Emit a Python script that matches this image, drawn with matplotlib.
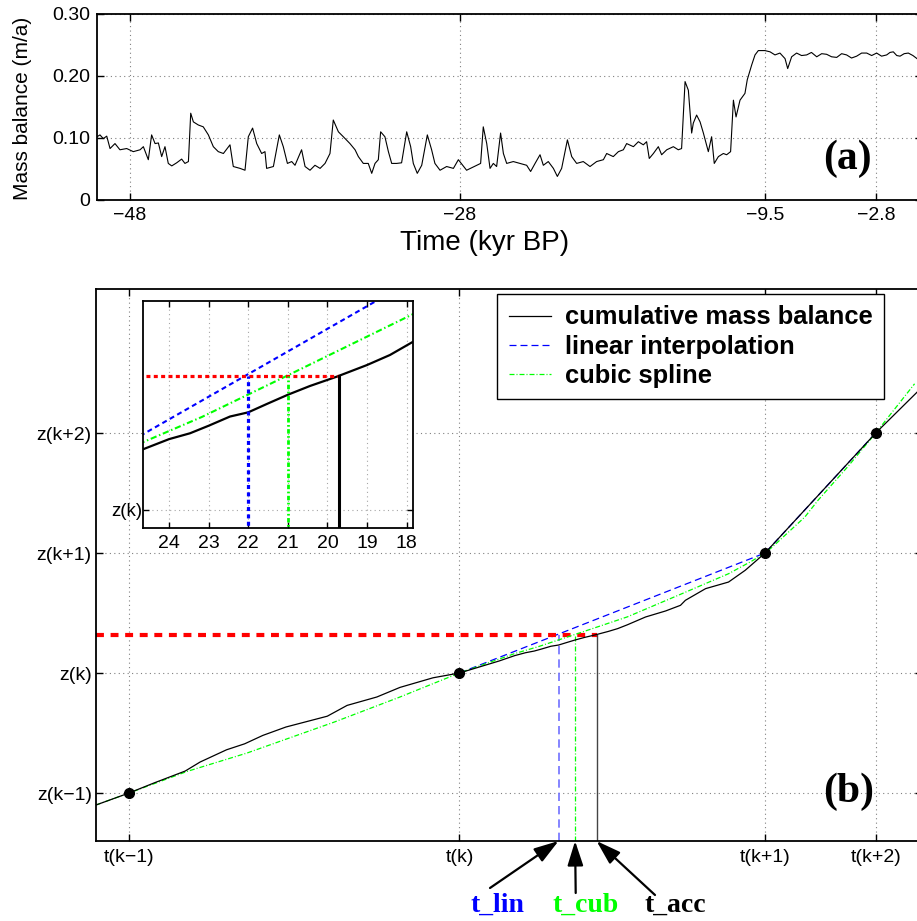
import matplotlib
matplotlib.use('Agg')
import matplotlib.pyplot as plt

plt.rcParams['font.family'] = ['Liberation Sans', 'DejaVu Sans']
plt.rcParams['axes.unicode_minus'] = True

# (a) mass balance record
mb_time = [-50.00, -49.82, -49.62, -49.41, -49.21, -48.91, -48.61, -48.20, -47.80, -47.39,
           -47.19, -46.89, -46.69, -46.48, -46.28, -46.08, -45.88, -45.68, -45.47, -45.17,
           -44.87, -44.67, -44.46, -44.32, -44.16, -43.86, -43.56, -43.25, -42.95, -42.65,
           -42.34, -41.94, -41.74, -41.33, -41.03, -40.83, -40.57, -40.32, -40.02, -39.82,
           -39.72, -39.31, -38.95, -38.71, -38.46, -38.20, -38.00, -37.60, -37.39, -37.09,
           -36.79, -36.48, -36.18, -35.88, -35.68, -35.37, -35.07, -34.67, -34.36, -34.16,
           -33.86, -33.56, -33.35, -33.15, -32.95, -32.81, -32.55, -32.34, -32.14, -31.84,
           -31.54, -31.23, -30.99, -30.83, -30.59, -30.32, -29.98, -29.72, -29.52, -29.21,
           -28.81, -28.40, -28.10, -27.60, -26.99, -26.75, -26.59, -26.38, -26.18, -25.98,
           -25.78, -25.54, -25.37, -25.17, -24.77, -24.36, -23.96, -23.72, -23.45, -23.15,
           -22.95, -22.65, -22.34, -22.10, -21.84, -21.49, -21.23, -20.93, -20.53, -20.12,
           -19.72, -19.31, -19.11, -18.71, -18.40, -18.10, -17.90, -17.49, -17.19, -16.89,
           -16.69, -16.53, -16.28, -15.98, -15.78, -15.47, -15.07, -14.77, -14.57, -14.36,
           -14.16, -13.96, -13.86, -13.66, -13.45, -13.25, -12.95, -12.75, -12.59, -12.34,
           -12.04, -11.84, -11.60, -11.43, -11.27, -11.03, -10.73, -10.59, -10.32, -10.12,
           -9.92, -9.52, -9.21, -8.91, -8.61, -8.30, -8.14, -7.90, -7.60, -7.30,
           -6.99, -6.70, -6.38, -6.08, -5.78, -5.48, -5.17, -4.87, -4.57, -4.27,
           -3.96, -3.66, -3.35, -3.05, -2.75, -2.45, -2.14, -1.94, -1.74, -1.53,
           -1.33, -1.08, -0.83, -0.55, -0.30]
mb_value = [0.102, 0.105, 0.099, 0.103, 0.083, 0.091, 0.081, 0.083, 0.078, 0.081,
            0.086, 0.065, 0.105, 0.091, 0.092, 0.070, 0.086, 0.059, 0.055, 0.060,
            0.066, 0.059, 0.062, 0.140, 0.126, 0.121, 0.118, 0.105, 0.086, 0.078,
            0.075, 0.089, 0.054, 0.051, 0.048, 0.102, 0.116, 0.091, 0.075, 0.078,
            0.051, 0.054, 0.105, 0.086, 0.059, 0.062, 0.056, 0.081, 0.054, 0.048,
            0.056, 0.051, 0.059, 0.075, 0.129, 0.110, 0.102, 0.091, 0.081, 0.070,
            0.059, 0.059, 0.043, 0.059, 0.065, 0.110, 0.102, 0.078, 0.059, 0.059,
            0.060, 0.110, 0.086, 0.059, 0.043, 0.056, 0.105, 0.081, 0.059, 0.048,
            0.054, 0.051, 0.065, 0.048, 0.056, 0.059, 0.118, 0.091, 0.051, 0.059,
            0.054, 0.108, 0.075, 0.059, 0.062, 0.059, 0.056, 0.046, 0.059, 0.073,
            0.056, 0.062, 0.051, 0.038, 0.051, 0.097, 0.070, 0.059, 0.062, 0.054,
            0.062, 0.065, 0.075, 0.070, 0.078, 0.081, 0.091, 0.086, 0.094, 0.089,
            0.094, 0.067, 0.075, 0.086, 0.073, 0.081, 0.086, 0.081, 0.083, 0.191,
            0.177, 0.108, 0.124, 0.137, 0.126, 0.108, 0.078, 0.102, 0.059, 0.070,
            0.075, 0.073, 0.078, 0.161, 0.134, 0.161, 0.172, 0.194, 0.218, 0.234,
            0.241, 0.241, 0.239, 0.234, 0.237, 0.228, 0.212, 0.231, 0.237, 0.233,
            0.234, 0.238, 0.231, 0.236, 0.235, 0.231, 0.230, 0.236, 0.234, 0.229,
            0.232, 0.237, 0.237, 0.233, 0.237, 0.232, 0.234, 0.238, 0.239, 0.233,
            0.232, 0.236, 0.237, 0.233, 0.228]
mb_xticks = [-48, -28, -9.5, -2.8]
mb_xticklabels = ['\u221248', '\u221228', '\u22129.5', '\u22122.8']
mb_yticks = [0, 0.10, 0.20, 0.30]
mb_yticklabels = ['0', '0.10', '0.20', '0.30']

# (b) cumulative mass balance and interpolations
cum_t = [-50, -48, -46.5, -44.6, -43.7, -42.1, -41.0, -39.9, -38.5, -36.0, -34.8, -33.0,
         -31.6, -29.6, -28, -25.6, -24.65, -24.0, -23.47, -23.0, -22.46, -22.0, -21.53,
         -21.0, -20.44, -19.77, -19.0, -18.42, -17.83, -16.73, -15.52, -14.62, -14.32,
         -13.1, -11.71, -10.7, -9.89, -9.5, -2.8, -0.3]
cum_z = [-0.10, 0.0, 0.083, 0.183, 0.258, 0.36, 0.41, 0.48, 0.55, 0.64, 0.73, 0.80,
         0.88, 0.96, 1.0, 1.10, 1.145, 1.169, 1.183, 1.201, 1.223, 1.233, 1.253,
         1.275, 1.296, 1.318, 1.346, 1.370, 1.402, 1.467, 1.517, 1.564, 1.606,
         1.703, 1.758, 1.856, 1.953, 2.0, 3.0, 3.34]
spl_t = [-50, -48, -44.48, -40.86, -35.6, -31.6, -28, -24.65, -23.17, -21.03, -17.83,
         -14.53, -11.7, -10.3, -9.5, -9.1, -7.09, -6.29, -4.49, -2.8, -0.45]
spl_z = [-0.10, 0.0, 0.18, 0.333, 0.59, 0.80, 1.0, 1.162, 1.222, 1.32, 1.468,
         1.661, 1.828, 1.933, 2.0, 2.045, 2.30, 2.44, 2.72, 3.0, 3.41]
knot_t = [-48, -28, -9.5, -2.8]
knot_z = [0, 1, 2, 3]
knot_tlabels = ['t(k\u22121)', 't(k)', 't(k+1)', 't(k+2)']
knot_zlabels = ['z(k\u22121)', 'z(k)', 'z(k+1)', 'z(k+2)']
z_target = 1.32
t_lin, t_cub, t_acc = -22.0, -21.0, -19.7
inset_ticks = [24, 23, 22, 21, 20, 19, 18]

W, H = 917, 921
fig = plt.figure(figsize=(W / 100, H / 100), dpi=100)


def px_axes(left, top, right, bottom):
    return fig.add_axes([left / W, 1 - bottom / H, (right - left) / W, (bottom - top) / H])


def style(ax, pad):
    ax.tick_params(direction='in', length=5, width=1, top=True, right=True,
                   labelsize=14, pad=pad)
    for s in ax.spines.values():
        s.set_linewidth(1.3)
    ax.grid(True, linestyle=(0, (1, 3)), color='0.5', linewidth=0.8)
    ax.set_axisbelow(True)


# ---- panel (a)
ax1 = px_axes(97, 14, 922, 200)
ax1.plot(mb_time, mb_value, color='k', linewidth=0.8)
ax1.set_xlim(-50, 0)
ax1.set_ylim(0, 0.30)
ax1.set_xticks(mb_xticks)
ax1.set_xticklabels(mb_xticklabels)
ax1.set_yticks(mb_yticks)
ax1.set_yticklabels(mb_yticklabels)
style(ax1, 5)
fig.text(484.5 / W, 1 - 243 / H, 'Time (kyr BP)', fontsize=20, ha='center', va='center')
fig.text(22.5 / W, 1 - 108 / H, 'Mass balance (m/a)', fontsize=15, rotation=90,
         ha='center', va='center')

# ---- panel (b)
ax2 = px_axes(96, 289, 922, 841)
ax2.plot(cum_t, cum_z, color='k', linewidth=0.9, label='cumulative mass balance', zorder=3)
ax2.plot(knot_t[1:], knot_z[1:], color='b', linewidth=0.9, dashes=(5.6, 3.2),
         label='linear interpolation', zorder=2)
ax2.plot(spl_t, spl_z, color=(0, 1, 0), linewidth=0.9, dashes=(4, 1.6, 0.8, 1.6),
         label='cubic spline', zorder=2.5)
ax2.plot(knot_t, knot_z, 'o', color='k', markersize=7, zorder=4)
ax2.plot([-50, t_acc], [z_target, z_target], color='r', linewidth=3, dashes=(1.9, 1.6),
         solid_capstyle='butt', dash_capstyle='butt', zorder=2)
ax2.plot([t_lin, t_lin], [-0.4, z_target], color='#6f6fff', linewidth=1.2, dashes=(5, 3))
ax2.plot([t_cub, t_cub], [-0.4, z_target], color=(0, 1, 0), linewidth=0.9,
         dashes=(4, 1.6, 0.8, 1.6))
ax2.plot([t_acc, t_acc], [-0.4, z_target], color='#444444', linewidth=1.0)
ax2.set_xlim(-50, 0)
ax2.set_ylim(-0.4, 4.2)
ax2.set_xticks(knot_t)
ax2.set_xticklabels(knot_tlabels)
ax2.set_yticks(knot_z)
ax2.set_yticklabels(knot_zlabels)
style(ax2, 3)
ax2.tick_params(axis='x', pad=6)

leg = ax2.legend(loc='upper right', bbox_to_anchor=(884 / W, 1 - 294 / H),
                 bbox_transform=fig.transFigure, borderaxespad=0, fancybox=False,
                 framealpha=1, edgecolor='k', handlelength=1.65, labelspacing=0.2,
                 borderpad=0.45, handletextpad=0.55,
                 prop={'weight': 'bold', 'size': 18.4})
leg.get_frame().set_linewidth(1.0)

# arrows to the three crossing times
arrow_kw = dict(arrowstyle='-|>,head_length=1.0,head_width=0.32', mutation_scale=15,
                lw=1.6, color='k', shrinkA=0, shrinkB=0)
for t, tail in [(t_lin, (490, 921 - 888)), (t_cub, (575.7, 921 - 893)),
                (t_acc, (655, 921 - 895))]:
    ax2.annotate('', xy=(t, -0.4), xycoords='data', xytext=tail,
                 textcoords='figure pixels', arrowprops=arrow_kw, annotation_clip=False)
for label, xc, col in [('t_lin', 497.5, 'b'), ('t_cub', 585.8, (0, 1, 0)),
                       ('t_acc', 675, 'k')]:
    fig.text(xc / W, 1 - 912 / H, label, color=col, fontsize=20, fontweight='bold',
             family='Liberation Serif', ha='center', va='baseline')

# ---- inset
ax3 = px_axes(143.3, 301, 413.3, 528.3)
inv_cum = [-t for t in cum_t]
inv_spl = [-t for t in spl_t]
inv_knot = [-t for t in knot_t]
ax3.plot(inv_cum, cum_z, color='k', linewidth=1.6, zorder=3)
ax3.plot(inv_knot, knot_z, color='b', linewidth=1.5, dashes=(2.4, 1.7), zorder=2)
ax3.plot(inv_spl, spl_z, color=(0, 1, 0), linewidth=1.5, dashes=(3, 1.3, 0.7, 1.3), zorder=2)
ax3.plot([50, -t_acc], [z_target, z_target], color='r', linewidth=2.3,
         dashes=(1.25, 1.05), zorder=4)
ax3.plot([-t_lin, -t_lin], [0, z_target], color='b', linewidth=2.3, dashes=(1.25, 1.05),
         zorder=4)
ax3.plot([-t_cub, -t_cub], [0, z_target], color=(0, 1, 0), linewidth=2.0,
         dashes=(1.6, 0.9, 0.6, 0.9), zorder=4)
ax3.plot([-t_acc, -t_acc], [0, z_target], color='k', linewidth=2.2, zorder=4)
ax3.set_xlim(24.65, 17.83)
ax3.set_ylim(0.956, 1.499)
ax3.set_xticks(inset_ticks)
ax3.set_yticks([1])
ax3.set_yticklabels(['z(k)'])
ax3.tick_params(direction='in', length=4, width=1, top=True, right=True, labelsize=14)
ax3.tick_params(axis='x', pad=5)
ax3.tick_params(axis='y', pad=1, labelsize=13.5)
for s in ax3.spines.values():
    s.set_linewidth(1.3)
ax3.grid(True, linestyle=(0, (1, 3)), color='0.65', linewidth=0.8)
ax3.set_axisbelow(True)

# panel letters, placed last so they sit on top of the axes
fig.text(847 / W, 1 - 159 / H, '(a)', fontsize=30, fontweight='bold',
         family='Liberation Serif', ha='center', va='center')
fig.text(849 / W, 1 - 792 / H, '(b)', fontsize=30, fontweight='bold',
         family='Liberation Serif', ha='center', va='center')

fig.savefig('out.png', dpi=100)
